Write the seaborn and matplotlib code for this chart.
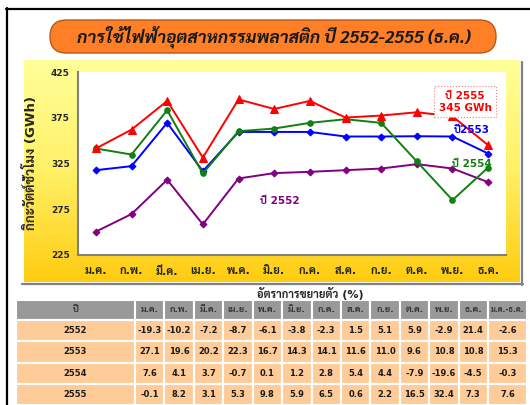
import numpy as np
import pandas as pd
import matplotlib
matplotlib.use("Agg")
import matplotlib.pyplot as plt
import seaborn as sns
from matplotlib.colors import LinearSegmentedColormap
from matplotlib.patches import FancyBboxPatch, Rectangle
from matplotlib.lines import Line2D
from matplotlib.ticker import FixedLocator

# ---- data ----
months = ["ม.ค.", "ก.พ.", "มี.ค.", "เม.ย.", "พ.ค.", "มิ.ย.",
          "ก.ค.", "ส.ค.", "ก.ย.", "ต.ค.", "พ.ย.", "ธ.ค."]
years = ["2552", "2553", "2554", "2555"]
gwh_2552 = [250.5, 269.7, 307.2, 258.5, 308.6, 314.5, 315.9, 317.7, 319.5, 324.3, 319.5, 304.6]
gwh_2553 = [317.7, 322.1, 369.4, 316.6, 359.5, 359.5, 359.5, 354.5, 354.5, 354.8, 354.5, 335.9]
gwh_2554 = [341.4, 334.8, 383.2, 314.1, 360.3, 363.2, 369.4, 373.4, 369.4, 327.2, 285.0, 320.6]
gwh_2555 = [341.4, 362.0, 393.4, 331.5, 395.0, 384.6, 393.4, 375.2, 377.4, 381.0, 376.6, 345.0]

table_cols = ["ปี"] + months + ["ม.ค.-ธ.ค."]
growth_2552 = [-19.3, -10.2, -7.2, -8.7, -6.1, -3.8, -2.3, 1.5, 5.1, 5.9, -2.9, 21.4, -2.6]
growth_2553 = [27.1, 19.6, 20.2, 22.3, 16.7, 14.3, 14.1, 11.6, 11.0, 9.6, 10.8, 10.8, 15.3]
growth_2554 = [7.6, 4.1, 3.7, -0.7, 0.1, 1.2, 2.8, 5.4, 4.4, -7.9, -19.6, -4.5, -0.3]
growth_2555 = [-0.1, 8.2, 3.1, 5.3, 9.8, 5.9, 6.5, 0.6, 2.2, 16.5, 32.4, 7.3, 7.6]

series = {"2552": gwh_2552, "2553": gwh_2553, "2554": gwh_2554, "2555": gwh_2555}
growth = {"2552": growth_2552, "2553": growth_2553, "2554": growth_2554, "2555": growth_2555}

df = pd.DataFrame([(y, m, v) for y, vals in series.items() for m, v in zip(months, vals)],
                  columns=["year", "month", "gwh"])

sns.set_style("white")
FONT = ["DejaVu Sans", "Sarabun"]
plt.rcParams["font.family"] = FONT

colors = {"2552": "#800080", "2553": "#0000FF", "2554": "#108010", "2555": "#FF0000"}
markers = {"2552": "D", "2553": "D", "2554": "o", "2555": "^"}
msizes = {"2552": 3.5, "2553": 3.5, "2554": 4, "2555": 6}

W, H = 530, 405
fig = plt.figure(figsize=(W / 100, H / 100), dpi=100)

# background canvas in pixel units
bg = fig.add_axes([0, 0, 1, 1], zorder=0)
bg.set_xlim(0, W)
bg.set_ylim(H, 0)
bg.axis("off")

# black frame lines
bg.add_line(Line2D([6, W], [8.5, 8.5], color="black", lw=1.6))
bg.add_line(Line2D([6.5, 6.5], [8, H], color="black", lw=1.6))

# title pill
bg.add_patch(FancyBboxPatch((50, 20), 446, 33, boxstyle="round,pad=0,rounding_size=16.5",
                            fc="#FF7F27", ec="#B5581C", lw=1))
bg.text(274, 37, "การใช้ไฟฟ้าอุตสาหกรรมพลาสติก ปี 2552-2555 (ธ.ค.)", ha="center", va="center",
        fontsize=12.5, fontweight="bold", fontstyle="italic", family=["Sarabun", "DejaVu Sans"],
        color="#1a1a1a")

# chart panel with gradient + shadow
grad = LinearSegmentedColormap.from_list("yl", ["#FFFF99", "#FFF066", "#FFCC11"])
bg.imshow(np.linspace(0, 1, 200)[:, None], cmap=grad, extent=(24, 520, 282, 60),
          aspect="auto", origin="upper", zorder=1)
bg.add_line(Line2D([521.5, 521.5], [62, 284.5], color="#808080", lw=1.6, zorder=2))
bg.add_line(Line2D([22, 522.5], [284, 284], color="#808080", lw=1.6, zorder=2))

# ---- line chart ----
ax = fig.add_axes([78 / W, 1 - 255 / H, 428 / W, 183 / H], zorder=2)
ax.set_facecolor("white")
for yr in years:
    sub = df[df["year"] == yr]
    sns.lineplot(data=sub, x="month", y="gwh", ax=ax, color=colors[yr], lw=1.4,
                 marker=markers[yr], markersize=msizes[yr], markeredgecolor=colors[yr],
                 sort=False, legend=False)
ax.set_xlim(-0.5, 11.5)
ax.set_ylim(225, 425)
ax.set_yticks([225, 275, 325, 375, 425])
ax.set_xticks(range(len(months)))
ax.set_xticklabels(months)
ax.xaxis.set_minor_locator(FixedLocator(np.arange(-0.5, 12, 1)))
ax.tick_params(axis="x", which="major", length=0, pad=8, labelsize=8)
ax.tick_params(axis="x", which="minor", length=3.5, width=1, color="#404040", direction="out")
ax.tick_params(axis="y", length=4, width=1, color="#404040", direction="out", labelsize=6.5, pad=2)
for lab in ax.get_xticklabels() + ax.get_yticklabels():
    lab.set_fontweight("bold")
for s in ["top", "right"]:
    ax.spines[s].set_visible(False)
for s in ["left", "bottom"]:
    ax.spines[s].set_color("#808080")
    ax.spines[s].set_linewidth(1.5)
ax.set_xlabel("")
ax.set_ylabel("กิกะวัตต์ชั่วโมง (GWh)", fontsize=9.5, fontweight="bold", labelpad=9)

# series labels
ax.text(10.35, 392.5, "ปี 2555\n345 GWh", color="#FF0000", fontsize=7.5, fontweight="bold",
        ha="center", va="center", linespacing=1.3,
        bbox=dict(boxstyle="square,pad=0.4", fc="white", ec="#F08080", lw=0.8, ls=":"))
ax.text(10.55, 361.5, "ปี2553", color="#0000FF", fontsize=7.5, fontweight="bold", ha="center", va="center")
ax.text(10.55, 324.5, "ปี 2554", color="#108010", fontsize=7.5, fontweight="bold", ha="center", va="center")
ax.text(5.16, 284.0, "ปี 2552", color="#800080", fontsize=7.5, fontweight="bold", ha="center", va="center")

# ---- growth table ----
bg.text(310, 294, "อัตราการขยายตัว (%)", ha="center", va="center", fontsize=8, fontweight="bold")
edges = [16, 135] + list(np.linspace(135, 488, 13)[1:]) + [527]
row_tops = [300, 319.5, 341, 362.5, 384]
row_bots = [319.5, 341, 362.5, 384, 405]
for ci, name in enumerate(table_cols):
    x0, x1 = edges[ci], edges[ci + 1]
    bg.add_patch(Rectangle((x0, row_tops[0]), x1 - x0, row_bots[0] - row_tops[0],
                           fc="#999999", ec="white", lw=1.5, zorder=2))
    bg.text((x0 + x1) / 2, (row_tops[0] + row_bots[0]) / 2, name, ha="center", va="center",
            fontsize=5.5 if ci == len(table_cols) - 1 else 6.5, fontweight="bold",
            color="#333333", zorder=3)
for ri, yr in enumerate(years, start=1):
    cells = [yr] + [f"{v:.1f}" for v in growth[yr]]
    for ci, txt in enumerate(cells):
        x0, x1 = edges[ci], edges[ci + 1]
        bg.add_patch(Rectangle((x0, row_tops[ri]), x1 - x0, row_bots[ri] - row_tops[ri],
                               fc="#FFCC99", ec="white", lw=1.5, zorder=2))
        bg.text((x0 + x1) / 2, (row_tops[ri] + row_bots[ri]) / 2, txt, ha="center", va="center",
                fontsize=6, fontweight="bold", color="#1a1a1a", zorder=3)

fig.savefig("out.png", dpi=100)
